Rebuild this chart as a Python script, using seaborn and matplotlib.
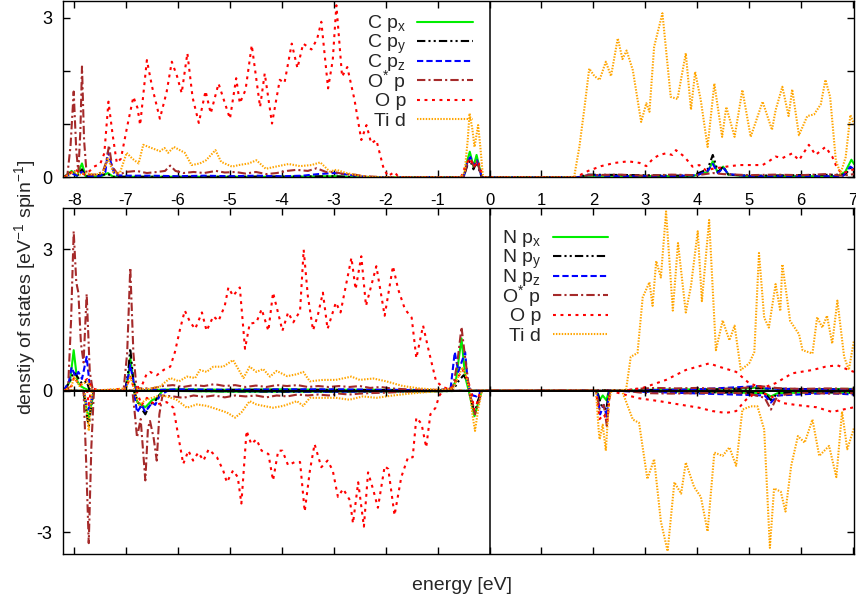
import numpy as np
import pandas as pd
import matplotlib
matplotlib.use("Agg")
import matplotlib.pyplot as plt
from matplotlib.lines import Line2D
import seaborn as sns

# ---------------- data: (energy [eV], DOS) ----------------
# upper panel (C-doped), spin up only
top_cpx = [(-8.2, 0.0), (-8.05, 0.12), (-7.95, 0.02), (-7.85, 0.26), (-7.78, 0.02), (-7.5, 0.01), (-7.35, 0.08),
           (-7.25, 0.01), (-6.0, 0.01), (-5.0, 0.01), (-4.0, 0.01), (-3.0, 0.02), (-2.5, 0.0), (-0.5, 0.0),
           (-0.42, 0.35), (-0.38, 0.48), (-0.31, 0.2), (-0.25, 0.42), (-0.15, 0.0), (1.7, 0.0), (1.9, 0.03),
           (3.9, 0.02), (4.2, 0.1), (4.3, 0.3), (4.4, 0.08), (4.5, 0.2), (4.6, 0.05), (5.0, 0.02), (6.7, 0.02),
           (6.85, 0.1), (6.97, 0.33), (7.02, 0.25)]
top_cpy = [(-8.2, 0.0), (-8.05, 0.1), (-7.95, 0.02), (-7.85, 0.15), (-7.78, 0.02), (-7.35, 0.06), (-7.25, 0.01),
           (-5.0, 0.01), (-3.0, 0.02), (-2.5, 0.0), (-0.5, 0.0), (-0.42, 0.25), (-0.37, 0.32), (-0.31, 0.15),
           (-0.25, 0.28), (-0.15, 0.0), (1.7, 0.0), (1.9, 0.05), (3.9, 0.03), (4.2, 0.15), (4.3, 0.42), (4.4, 0.1),
           (4.5, 0.2), (4.6, 0.05), (5.0, 0.03), (6.85, 0.05), (6.97, 0.2), (7.02, 0.15)]
top_cpz = [(-8.2, 0.0), (-8.05, 0.08), (-7.95, 0.03), (-7.85, 0.1), (-7.75, 0.02), (-7.5, 0.02), (-7.4, 0.1),
           (-7.35, 0.48), (-7.3, 0.3), (-7.22, 0.04), (-7.0, 0.03), (-6.5, 0.03), (-6.0, 0.02), (-5.5, 0.03),
           (-5.0, 0.02), (-4.5, 0.03), (-4.0, 0.02), (-3.6, 0.03), (-3.3, 0.06), (-3.0, 0.08), (-2.8, 0.06),
           (-2.5, 0.02), (-2.2, 0.0), (-0.5, 0.0), (-0.42, 0.3), (-0.37, 0.38), (-0.3, 0.22), (-0.24, 0.32),
           (-0.15, 0.0), (1.7, 0.0), (1.9, 0.04), (2.5, 0.02), (3.5, 0.02), (4.0, 0.04), (4.2, 0.12), (4.3, 0.25),
           (4.4, 0.08), (4.5, 0.18), (4.6, 0.06), (5.0, 0.02), (6.0, 0.02), (6.8, 0.02), (6.95, 0.2), (7.02, 0.15)]
top_ostar = [(-8.2, 0.0), (-8.13, 0.05), (-8.07, 0.6), (-8.01, 1.61), (-7.96, 0.5), (-7.92, 0.1), (-7.88, 0.9),
             (-7.85, 2.08), (-7.81, 0.7), (-7.76, 0.05), (-7.6, 0.05), (-7.45, 0.1), (-7.38, 0.3), (-7.33, 0.6),
             (-7.27, 0.2), (-7.15, 0.05), (-7.0, 0.1), (-6.8, 0.12), (-6.6, 0.08), (-6.4, 0.1), (-6.25, 0.12),
             (-6.15, 0.22), (-6.05, 0.12), (-5.9, 0.08), (-5.7, 0.1), (-5.5, 0.08), (-5.27, 0.12), (-5.1, 0.09),
             (-4.9, 0.1), (-4.7, 0.07), (-4.5, 0.1), (-4.3, 0.06), (-4.1, 0.08), (-3.9, 0.12), (-3.72, 0.14),
             (-3.5, 0.12), (-3.33, 0.17), (-3.15, 0.1), (-3.0, 0.1), (-2.8, 0.06), (-2.6, 0.05), (-2.4, 0.02),
             (-2.2, 0.01), (-2.0, 0.0), (-0.5, 0.0), (-0.42, 0.3), (-0.36, 0.35), (-0.3, 0.2), (-0.24, 0.3),
             (-0.15, 0.0), (1.7, 0.0), (1.9, 0.04), (2.5, 0.05), (3.0, 0.03), (3.5, 0.05), (4.0, 0.04), (4.3, 0.08),
             (4.5, 0.06), (5.0, 0.04), (5.5, 0.05), (6.0, 0.04), (6.5, 0.06), (6.8, 0.03), (7.02, 0.06)]
top_op = [(-8.2, 0.0), (-8.1, 0.05), (-8.0, 0.15), (-7.9, 0.1), (-7.8, 0.05), (-7.7, 0.12), (-7.62, 0.2),
          (-7.5, 0.25), (-7.42, 0.45), (-7.34, 1.42), (-7.26, 0.8), (-7.18, 0.27), (-7.1, 0.35), (-6.98, 0.95),
          (-6.86, 1.51), (-6.78, 1.3), (-6.73, 0.98), (-6.6, 2.2), (-6.5, 1.7), (-6.35, 1.1), (-6.22, 1.6),
          (-6.12, 2.17), (-6.02, 1.9), (-5.93, 1.58), (-5.82, 2.33), (-5.72, 1.5), (-5.6, 1.02), (-5.47, 1.62),
          (-5.37, 1.2), (-5.22, 1.76), (-5.1, 1.4), (-5.0, 1.1), (-4.88, 1.86), (-4.81, 1.39), (-4.7, 1.64),
          (-4.58, 2.48), (-4.5, 1.9), (-4.42, 1.32), (-4.33, 1.95), (-4.19, 1.01), (-4.04, 1.83), (-3.95, 1.77),
          (-3.81, 2.51), (-3.7, 2.05), (-3.59, 2.51), (-3.5, 2.45), (-3.43, 2.4), (-3.32, 2.6), (-3.24, 2.92),
          (-3.11, 1.67), (-3.02, 2.2), (-2.95, 3.23), (-2.84, 1.89), (-2.74, 2.07), (-2.6, 1.45), (-2.47, 0.7),
          (-2.37, 0.98), (-2.28, 0.64), (-2.18, 0.7), (-2.05, 0.2), (-1.96, 0.02), (-1.83, 0.1), (-1.75, 0.0),
          (-0.55, 0.0), (-0.45, 0.25), (-0.38, 0.35), (-0.3, 0.2), (-0.22, 0.3), (-0.12, 0.0),
          (1.6, 0.0), (1.7, 0.02), (1.9, 0.12), (2.15, 0.21), (2.41, 0.27), (2.67, 0.3), (2.89, 0.27), (3.02, 0.21),
          (3.15, 0.35), (3.27, 0.42), (3.4, 0.45), (3.52, 0.42), (3.59, 0.51), (3.75, 0.39), (3.91, 0.2),
          (4.04, 0.23), (4.17, 0.13), (4.3, 0.16), (4.56, 0.2), (4.81, 0.23), (5.07, 0.23), (5.26, 0.23),
          (5.38, 0.3), (5.51, 0.39), (5.64, 0.36), (5.83, 0.45), (5.96, 0.32), (6.15, 0.61), (6.28, 0.42),
          (6.47, 0.57), (6.6, 0.39), (6.7, 0.16), (6.8, 0.07), (6.92, 0.12), (7.02, 0.15)]
top_tid = [(-8.2, 0.0), (-8.1, 0.05), (-8.0, 0.1), (-7.9, 0.05), (-7.8, 0.08), (-7.6, 0.05), (-7.45, 0.08),
           (-7.35, 0.35), (-7.25, 0.1), (-7.12, 0.08), (-6.99, 0.46), (-6.88, 0.35), (-6.76, 0.26), (-6.67, 0.61),
           (-6.51, 0.55), (-6.35, 0.49), (-6.26, 0.55), (-6.19, 0.46), (-6.08, 0.57), (-5.87, 0.46), (-5.74, 0.23),
           (-5.58, 0.26), (-5.46, 0.32), (-5.28, 0.51), (-5.17, 0.29), (-4.96, 0.2), (-4.83, 0.23), (-4.64, 0.26),
           (-4.49, 0.32), (-4.31, 0.16), (-4.12, 0.2), (-3.87, 0.25), (-3.65, 0.21), (-3.43, 0.23), (-3.26, 0.28),
           (-3.08, 0.11), (-2.95, 0.14), (-2.76, 0.08), (-2.5, 0.03), (-2.3, 0.01), (-2.0, 0.0),
           (-0.55, 0.0), (-0.48, 0.1), (-0.42, 0.7), (-0.385, 1.2), (-0.33, 0.9), (-0.29, 0.57), (-0.25, 0.8),
           (-0.22, 0.98), (-0.18, 0.6), (-0.13, 0.05), (-0.1, 0.0),
           (1.5, 0.0), (1.63, 0.01), (1.73, 0.57), (1.83, 1.32), (1.92, 2.04), (2.02, 1.9), (2.12, 1.83),
           (2.24, 2.17), (2.34, 1.9), (2.47, 2.61), (2.56, 2.22), (2.64, 2.38), (2.76, 2.01), (2.92, 1.04),
           (3.02, 1.39), (3.08, 1.23), (3.17, 2.45), (3.33, 3.08), (3.49, 1.51), (3.62, 1.47), (3.78, 2.33),
           (3.88, 1.27), (3.96, 1.98), (4.07, 1.44), (4.2, 0.57), (4.33, 1.76), (4.48, 0.76), (4.56, 1.32),
           (4.72, 0.76), (4.87, 1.64), (5.03, 0.76), (5.26, 1.42), (5.44, 0.89), (5.51, 1.26), (5.64, 1.7),
           (5.76, 1.15), (5.83, 1.65), (5.96, 0.79), (6.12, 1.15), (6.25, 1.18), (6.38, 1.37), (6.47, 1.83),
           (6.56, 1.51), (6.67, 0.32), (6.76, 0.07), (6.86, 0.38), (6.95, 1.17), (7.02, 1.0)]

# lower panel (N-doped): spin up (positive) and spin down (stored as magnitudes)
bot_npx_up = [(-8.2, 0.0), (-8.08, 0.2), (-8.01, 0.86), (-7.94, 0.2), (-7.88, 0.1), (-7.8, 0.05), (-7.7, 0.0),
              (-7.02, 0.0), (-6.96, 0.3), (-6.92, 0.69), (-6.86, 0.2), (-6.8, 0.0), (-6.4, 0.02), (-6.0, 0.03),
              (-5.0, 0.02), (-4.0, 0.03), (-3.0, 0.02), (-2.0, 0.02), (-1.0, 0.01), (-0.75, 0.02), (-0.65, 0.2),
              (-0.54, 1.11), (-0.47, 0.3), (-0.4, 0.0), (2.6, 0.0), (3.0, 0.02), (4.0, 0.03), (5.0, 0.05),
              (5.2, 0.08), (5.4, 0.0), (6.0, 0.03), (7.02, 0.04)]
bot_npx_dn = [(-8.2, 0.0), (-7.82, 0.0), (-7.76, 0.4), (-7.72, 0.58), (-7.67, 0.3), (-7.62, 0.0), (-6.85, 0.0),
              (-6.78, 0.25), (-6.7, 0.3), (-6.63, 0.35), (-6.5, 0.2), (-6.4, 0.15), (-6.3, 0.0), (-5.0, 0.02),
              (-3.0, 0.02), (-1.0, 0.01), (-0.4, 0.0), (-0.34, 0.3), (-0.29, 0.54), (-0.23, 0.3), (-0.15, 0.0),
              (2.07, 0.0), (2.12, 0.2), (2.18, 0.1), (2.25, 0.2), (2.3, 0.0), (4.0, 0.02), (5.3, 0.05),
              (5.42, 0.12), (5.55, 0.05), (6.5, 0.03), (7.02, 0.05)]
bot_npy_up = [(-8.2, 0.0), (-8.08, 0.2), (-8.01, 0.4), (-7.94, 0.3), (-7.85, 0.15), (-7.76, 0.2), (-7.7, 0.0),
              (-7.02, 0.0), (-6.96, 0.4), (-6.92, 0.9), (-6.86, 0.2), (-6.8, 0.0), (-5.0, 0.02), (-3.0, 0.02),
              (-1.0, 0.01), (-0.7, 0.02), (-0.6, 0.2), (-0.5, 0.33), (-0.42, 0.2), (-0.38, 0.0), (4.0, 0.02),
              (5.2, 0.05), (7.02, 0.02)]
bot_npy_dn = [(-8.2, 0.0), (-7.82, 0.0), (-7.76, 0.5), (-7.72, 0.75), (-7.67, 0.3), (-7.62, 0.0), (-6.85, 0.0),
              (-6.75, 0.3), (-6.63, 0.5), (-6.55, 0.3), (-6.44, 0.22), (-6.3, 0.0), (-4.0, 0.02), (-1.0, 0.01),
              (-0.4, 0.0), (-0.33, 0.3), (-0.28, 0.45), (-0.22, 0.2), (-0.15, 0.0), (2.07, 0.0), (2.15, 0.3),
              (2.25, 0.4), (2.3, 0.0), (5.3, 0.05), (5.42, 0.2), (5.55, 0.05), (7.02, 0.03)]
bot_npz_up = [(-8.2, 0.0), (-8.1, 0.2), (-8.05, 0.5), (-7.98, 0.3), (-7.92, 0.4), (-7.85, 0.25), (-7.76, 0.72),
              (-7.7, 0.1), (-7.65, 0.0), (-7.02, 0.0), (-6.96, 0.3), (-6.92, 0.55), (-6.86, 0.2), (-6.8, 0.0),
              (-6.0, 0.03), (-5.0, 0.02), (-4.0, 0.03), (-3.0, 0.03), (-2.0, 0.02), (-1.0, 0.01), (-0.75, 0.05),
              (-0.67, 0.82), (-0.6, 0.4), (-0.54, 0.6), (-0.47, 0.82), (-0.42, 0.2), (-0.38, 0.0), (2.6, 0.0),
              (4.0, 0.03), (5.2, 0.1), (5.3, 0.05), (6.0, 0.03), (7.02, 0.03)]
bot_npz_dn = [(-8.2, 0.0), (-7.82, 0.0), (-7.76, 0.3), (-7.72, 0.4), (-7.67, 0.2), (-7.62, 0.0), (-6.85, 0.0),
              (-6.79, 0.46), (-6.7, 0.3), (-6.63, 0.45), (-6.5, 0.25), (-6.44, 0.3), (-6.35, 0.1), (-6.2, 0.0),
              (-3.0, 0.02), (-0.4, 0.0), (-0.32, 0.1), (-0.25, 0.12), (-0.15, 0.0), (2.07, 0.0), (2.13, 0.5),
              (2.2, 0.3), (2.26, 0.55), (2.3, 0.0), (5.3, 0.1), (5.42, 0.25), (5.55, 0.1), (6.5, 0.05), (7.02, 0.08)]
bot_ostar_up = [(-8.2, 0.0), (-8.12, 0.0), (-8.06, 1.5), (-8.01, 3.38), (-7.96, 2.3), (-7.92, 2.08), (-7.87, 1.0),
                (-7.82, 0.6), (-7.76, 2.05), (-7.7, 0.4), (-7.64, 0.0), (-7.05, 0.0), (-6.98, 0.8), (-6.92, 2.61),
                (-6.86, 0.8), (-6.8, 0.05), (-6.5, 0.05), (-6.3, 0.1), (-6.1, 0.12), (-5.9, 0.08), (-5.7, 0.12),
                (-5.5, 0.1), (-5.3, 0.14), (-5.1, 0.1), (-4.9, 0.12), (-4.7, 0.08), (-4.5, 0.11), (-4.3, 0.08),
                (-4.1, 0.12), (-3.9, 0.1), (-3.7, 0.12), (-3.5, 0.08), (-3.3, 0.1), (-3.1, 0.08), (-2.9, 0.1),
                (-2.7, 0.08), (-2.5, 0.1), (-2.3, 0.06), (-2.1, 0.08), (-1.9, 0.05), (-1.6, 0.03), (-1.2, 0.02),
                (-0.8, 0.02), (-0.7, 0.1), (-0.62, 0.6), (-0.54, 1.35), (-0.47, 0.7), (-0.4, 0.1), (-0.35, 0.0),
                (2.6, 0.0), (2.8, 0.04), (3.2, 0.06), (3.6, 0.05), (4.0, 0.06), (4.4, 0.04), (4.8, 0.05),
                (5.2, 0.1), (5.6, 0.05), (6.0, 0.04), (6.5, 0.05), (7.02, 0.04)]
bot_ostar_dn = [(-8.2, 0.0), (-7.82, 0.0), (-7.77, 1.5), (-7.72, 3.23), (-7.67, 1.2), (-7.62, 0.0), (-6.88, 0.0),
                (-6.84, 0.4), (-6.79, 0.99), (-6.72, 0.6), (-6.63, 1.9), (-6.58, 0.8), (-6.54, 0.64), (-6.47, 1.0),
                (-6.41, 1.48), (-6.36, 0.5), (-6.3, 0.1), (-6.1, 0.12), (-5.9, 0.15), (-5.7, 0.1), (-5.5, 0.13),
                (-5.3, 0.1), (-5.1, 0.14), (-4.9, 0.1), (-4.7, 0.12), (-4.5, 0.1), (-4.3, 0.14), (-4.1, 0.1),
                (-3.9, 0.12), (-3.7, 0.08), (-3.5, 0.1), (-3.3, 0.08), (-3.1, 0.1), (-2.9, 0.06), (-2.7, 0.08),
                (-2.5, 0.06), (-2.3, 0.05), (-2.0, 0.04), (-1.6, 0.02), (-1.2, 0.01), (-0.4, 0.0), (-0.32, 0.3),
                (-0.28, 0.5), (-0.22, 0.3), (-0.15, 0.0), (2.05, 0.0), (2.12, 0.4), (2.2, 0.3), (2.26, 0.75),
                (2.32, 0.0), (2.6, 0.0), (3.0, 0.05), (3.5, 0.06), (4.0, 0.05), (4.5, 0.04), (5.0, 0.06),
                (5.3, 0.15), (5.42, 0.4), (5.55, 0.1), (6.0, 0.04), (6.5, 0.06), (7.02, 0.05)]
bot_op_up = [(-8.2, 0.0), (-8.05, 0.1), (-8.0, 0.3), (-7.9, 0.1), (-7.75, 0.25), (-7.65, 0.05), (-7.5, 0.0),
             (-7.0, 0.05), (-6.92, 0.3), (-6.85, 0.05), (-6.7, 0.1), (-6.6, 0.37), (-6.54, 0.4), (-6.41, 0.33),
             (-6.28, 0.44), (-6.15, 0.51), (-6.06, 0.82), (-5.96, 1.31), (-5.87, 1.7), (-5.77, 1.46), (-5.67, 1.31),
             (-5.54, 1.66), (-5.45, 1.27), (-5.32, 1.58), (-5.22, 1.48), (-5.1, 1.8), (-5.03, 2.19), (-4.94, 2.01),
             (-4.81, 2.19), (-4.71, 0.89), (-4.62, 1.42), (-4.49, 1.45), (-4.39, 1.73), (-4.26, 1.27), (-4.17, 2.08),
             (-4.03, 1.46), (-3.99, 1.27), (-3.88, 1.66), (-3.78, 1.45), (-3.65, 1.69), (-3.58, 2.99), (-3.5, 2.01),
             (-3.4, 1.28), (-3.31, 1.59), (-3.21, 2.08), (-3.12, 1.31), (-2.96, 1.87), (-2.87, 1.66), (-2.66, 2.82),
             (-2.58, 2.15), (-2.47, 2.85), (-2.38, 1.8), (-2.18, 2.64), (-2.02, 1.59), (-1.86, 2.64), (-1.76, 2.15),
             (-1.63, 1.73), (-1.5, 1.55), (-1.41, 0.69), (-1.28, 1.38), (-1.18, 0.89), (-1.03, 0.2), (-0.9, 0.08),
             (-0.75, 0.02), (-0.6, 0.3), (-0.52, 0.45), (-0.45, 0.3), (-0.35, 0.0), (2.6, 0.0), (2.95, 0.06),
             (3.4, 0.23), (3.78, 0.44), (4.23, 0.58), (4.42, 0.51), (4.75, 0.4), (5.0, 0.16), (5.26, 0.06),
             (5.51, 0.16), (5.83, 0.37), (6.22, 0.44), (6.47, 0.51), (6.7, 0.54), (6.92, 0.44), (7.02, 0.4)]
bot_op_dn = [(-8.2, 0.0), (-7.75, 0.0), (-7.72, 0.3), (-7.68, 0.0), (-6.8, 0.0), (-6.7, 0.3), (-6.6, 0.15),
             (-6.5, 0.25), (-6.41, 0.29), (-6.22, 0.24), (-6.09, 0.36), (-5.99, 0.99), (-5.9, 1.55), (-5.8, 1.27),
             (-5.71, 1.48), (-5.61, 1.31), (-5.51, 1.48), (-5.41, 1.24), (-5.25, 1.41), (-5.13, 1.69), (-5.06, 1.94),
             (-4.94, 1.69), (-4.85, 1.83), (-4.78, 2.39), (-4.68, 0.85), (-4.59, 1.13), (-4.49, 1.03), (-4.39, 1.27),
             (-4.26, 1.34), (-4.17, 1.9), (-4.07, 1.27), (-3.99, 1.27), (-3.88, 1.58), (-3.75, 1.51), (-3.65, 1.51),
             (-3.56, 2.56), (-3.46, 1.69), (-3.37, 1.13), (-3.24, 1.62), (-3.12, 1.48), (-3.02, 1.69), (-2.92, 2.25),
             (-2.82, 2.08), (-2.69, 2.32), (-2.63, 2.81), (-2.53, 1.94), (-2.42, 2.88), (-2.34, 1.73), (-2.24, 2.1),
             (-2.15, 2.48), (-2.02, 1.6), (-1.95, 1.66), (-1.83, 2.64), (-1.7, 1.83), (-1.57, 1.41), (-1.48, 1.41),
             (-1.41, 0.57), (-1.31, 0.7), (-1.22, 1.2), (-1.14, 0.5), (-1.04, 0.36), (-0.97, 0.11), (-0.9, 0.0),
             (-0.35, 0.0), (-0.3, 0.4), (-0.25, 0.3), (-0.18, 0.0), (2.05, 0.0), (2.12, 0.6), (2.2, 0.5),
             (2.27, 0.65), (2.32, 0.0), (2.63, 0.09), (2.88, 0.16), (3.27, 0.22), (3.65, 0.29), (4.04, 0.36),
             (4.29, 0.43), (4.55, 0.47), (4.75, 0.43), (4.94, 0.19), (5.16, 0.02), (5.4, 0.1), (5.64, 0.26),
             (5.9, 0.3), (6.3, 0.35), (6.6, 0.45), (6.8, 0.4), (7.02, 0.35)]
bot_tid_up = [(-8.2, 0.0), (-8.05, 0.1), (-8.0, 0.3), (-7.9, 0.1), (-7.75, 0.2), (-7.65, 0.0), (-7.0, 0.05),
              (-6.92, 0.3), (-6.85, 0.05), (-6.6, 0.03), (-6.35, 0.09), (-6.15, 0.27), (-5.98, 0.2), (-5.83, 0.3),
              (-5.67, 0.27), (-5.58, 0.44), (-5.45, 0.4), (-5.32, 0.51), (-5.13, 0.51), (-4.94, 0.65), (-4.74, 0.27),
              (-4.62, 0.51), (-4.49, 0.4), (-4.36, 0.46), (-4.23, 0.3), (-4.1, 0.42), (-3.9, 0.31), (-3.71, 0.35),
              (-3.59, 0.4), (-3.46, 0.2), (-3.21, 0.23), (-2.96, 0.23), (-2.66, 0.3), (-2.5, 0.23), (-2.24, 0.26),
              (-1.99, 0.2), (-1.67, 0.1), (-1.35, 0.05), (-1.0, 0.02), (-0.7, 0.05), (-0.6, 0.3), (-0.52, 0.5),
              (-0.45, 0.3), (-0.38, 0.0), (2.55, 0.0), (2.63, 0.02), (2.72, 0.72), (2.85, 0.8), (2.95, 1.98),
              (3.08, 2.3), (3.14, 1.8), (3.21, 2.75), (3.3, 2.4), (3.4, 3.8), (3.53, 1.7), (3.63, 3.13), (3.78, 1.66),
              (3.88, 2.22), (4.01, 3.38), (4.09, 1.9), (4.23, 3.62), (4.36, 0.86), (4.49, 1.49), (4.62, 1.07),
              (4.72, 1.38), (4.84, 0.44), (5.0, 0.58), (5.1, 0.82), (5.19, 2.92), (5.29, 1.55), (5.38, 1.34),
              (5.51, 2.26), (5.6, 1.69), (5.64, 2.68), (5.79, 1.48), (5.96, 1.2), (6.03, 0.86), (6.22, 0.79),
              (6.31, 1.56), (6.41, 1.34), (6.5, 1.59), (6.6, 1.0), (6.7, 1.91), (6.83, 0.72), (6.92, 0.44),
              (7.02, 1.07)]
bot_tid_dn = [(-8.2, 0.0), (-7.8, 0.0), (-7.72, 0.85), (-7.66, 0.0), (-6.85, 0.0), (-6.75, 0.3), (-6.63, 0.2),
              (-6.5, 0.15), (-6.35, 0.1), (-6.22, 0.12), (-6.03, 0.19), (-5.83, 0.36), (-5.64, 0.29), (-5.45, 0.32),
              (-5.25, 0.39), (-5.06, 0.46), (-4.9, 0.57), (-4.78, 0.46), (-4.62, 0.22), (-4.49, 0.29), (-4.36, 0.32),
              (-4.17, 0.36), (-3.97, 0.32), (-3.71, 0.22), (-3.59, 0.32), (-3.46, 0.15), (-3.21, 0.15), (-2.96, 0.15),
              (-2.7, 0.19), (-2.44, 0.12), (-2.18, 0.15), (-1.86, 0.1), (-1.54, 0.06), (-1.22, 0.03), (-0.9, 0.0),
              (-0.38, 0.0), (-0.33, 0.5), (-0.28, 0.85), (-0.22, 0.4), (-0.15, 0.0), (2.05, 0.0), (2.1, 0.8),
              (2.12, 1.03), (2.18, 0.72), (2.24, 1.27), (2.3, 0.2), (2.35, 0.0), (2.55, 0.0), (2.63, 0.23),
              (2.76, 0.61), (2.88, 0.68), (3.04, 1.87), (3.17, 1.45), (3.3, 2.77), (3.43, 3.4), (3.56, 1.94),
              (3.69, 2.18), (3.78, 1.52), (3.94, 2.04), (4.07, 2.25), (4.2, 2.98), (4.33, 1.31), (4.49, 1.38),
              (4.62, 1.2), (4.75, 1.59), (4.87, 0.4), (5.03, 0.33), (5.16, 0.33), (5.29, 0.82), (5.4, 3.33),
              (5.48, 2.07), (5.61, 2.14), (5.7, 2.56), (5.81, 1.59), (5.94, 0.96), (6.07, 1.1), (6.22, 0.61),
              (6.35, 1.38), (6.54, 1.17), (6.68, 1.83), (6.79, 0.44), (6.89, 1.24), (7.02, 0.79)]

top_labels = ["C p$_\\mathregular{x}$", "C p$_\\mathregular{y}$", "C p$_\\mathregular{z}$",
              "O$^\\mathregular{*}$ p", "O p", "Ti d"]
bot_labels = ["N p$_\\mathregular{x}$", "N p$_\\mathregular{y}$", "N p$_\\mathregular{z}$",
              "O$^\\mathregular{*}$ p", "O p", "Ti d"]
energy_ticks = list(range(-8, 8))

# ---------------- styling ----------------
sns.set_theme(style="ticks")
plt.rcParams["font.family"] = ["Liberation Sans", "DejaVu Sans"]
plt.rcParams["mathtext.fontset"] = "custom"
plt.rcParams["mathtext.rm"] = "Liberation Sans"
plt.rcParams["mathtext.it"] = "Liberation Sans"
plt.rcParams["axes.unicode_minus"] = False

LW = 1.5
line_styles = [
    dict(color="#00ee00", linestyle="-"),                                  # p_x
    dict(color="black", linestyle=(0, (4, 1.5, 1, 1.5, 1, 1.5))),          # p_y
    dict(color="#0000ff", linestyle=(0, (3, 1.5))),                        # p_z
    dict(color="#a52a2a", linestyle=(0, (4, 1.5, 1, 1.5))),                # O* p
    dict(color="#ff0000", linestyle=(0, (1.4, 2.2))),                      # O p
    dict(color="#ffa500", linestyle=(0, (0.7, 0.7))),                      # Ti d
]

W, H = 856, 602
fig = plt.figure(figsize=(W / 100, H / 100), dpi=100)
left, right = 63.3, 854.0
ax_top = fig.add_axes([left / W, 1 - 177.3 / H, (right - left) / W, (177.3 - 1.0) / H])
ax_bot = fig.add_axes([left / W, 1 - 554.0 / H, (right - left) / W, (554.0 - 207.7) / H])


def draw(ax, pts, style, sign=1.0):
    df = pd.DataFrame(pts, columns=["energy", "dos"])
    df["dos"] = sign * df["dos"]
    sns.lineplot(data=df, x="energy", y="dos", ax=ax, estimator=None, errorbar=None,
                 sort=False, legend=False, lw=LW, **style)


for pts, st in zip([top_cpx, top_cpy, top_cpz, top_ostar, top_op, top_tid], line_styles):
    draw(ax_top, pts, st)

bot_up = [bot_npx_up, bot_npy_up, bot_npz_up, bot_ostar_up, bot_op_up, bot_tid_up]
bot_dn = [bot_npx_dn, bot_npy_dn, bot_npz_dn, bot_ostar_dn, bot_op_dn, bot_tid_dn]
for up, dn, st in zip(bot_up, bot_dn, line_styles):
    draw(ax_bot, up, st)
    draw(ax_bot, dn, st, sign=-1.0)

for ax in (ax_top, ax_bot):
    ax.set_xlim(-8.21, 7.02)
    ax.set_xlabel("")
    ax.set_ylabel("")
    ax.set_xticks(energy_ticks)
    ax.axvline(0, color="black", lw=1.1, zorder=6)
    ax.tick_params(direction="in", length=5, width=1.0, colors="black",
                   top=True, right=True, labelsize=12)
    for sp in ax.spines.values():
        sp.set_linewidth(1.0)
        sp.set_color("black")
        sp.set_zorder(7)

ax_top.set_ylim(0, 3.31)
ax_top.set_yticks([0, 1, 2, 3])
ax_top.set_yticklabels(["0", "", "", "3"])
ax_top.set_xticklabels([str(t) for t in energy_ticks])
ax_top.tick_params(axis="x", pad=11.5, labelsize=12)
ax_top.tick_params(axis="y", pad=8, labelsize=13)

ax_bot.set_ylim(-3.46, 3.88)
ax_bot.set_yticks([-3, 0, 3])
ax_bot.set_yticklabels(["-3", "0", "3"])
ax_bot.tick_params(axis="x", labelbottom=False)
ax_bot.tick_params(axis="y", pad=8, labelsize=13)
ax_bot.axhline(0, color="black", lw=1.4, zorder=6)
ax_bot.plot(energy_ticks, [0] * len(energy_ticks), ls="none", marker="|", ms=7, mew=1.0,
            color="black", zorder=6)

# gnuplot-like keys: text right-aligned, sample to the right
def key(labels, text_right, x0, x1, y0, step=19.5):
    for i, (lab, st) in enumerate(zip(labels, line_styles)):
        y = y0 + i * step
        fig.text(text_right / W, 1 - (y + 6.5) / H, lab, ha="right", va="baseline", fontsize=14)
        fig.add_artist(Line2D([x0 / W, x1 / W], [1 - y / H, 1 - y / H], transform=fig.transFigure,
                              lw=LW, **st))


key(top_labels, 406, 417, 473, 21.7)
key(bot_labels, 541, 553, 608, 236.7)

fig.text(25 / W, 1 - 287 / H, "denstiy of states [eV$^{-1}$ spin$^{-1}$]", rotation=90,
         ha="center", va="center", fontsize=14)
fig.text(462 / W, 1 - 586 / H, "energy [eV]", ha="center", va="center", fontsize=14)

fig.savefig("out.png", dpi=100)
